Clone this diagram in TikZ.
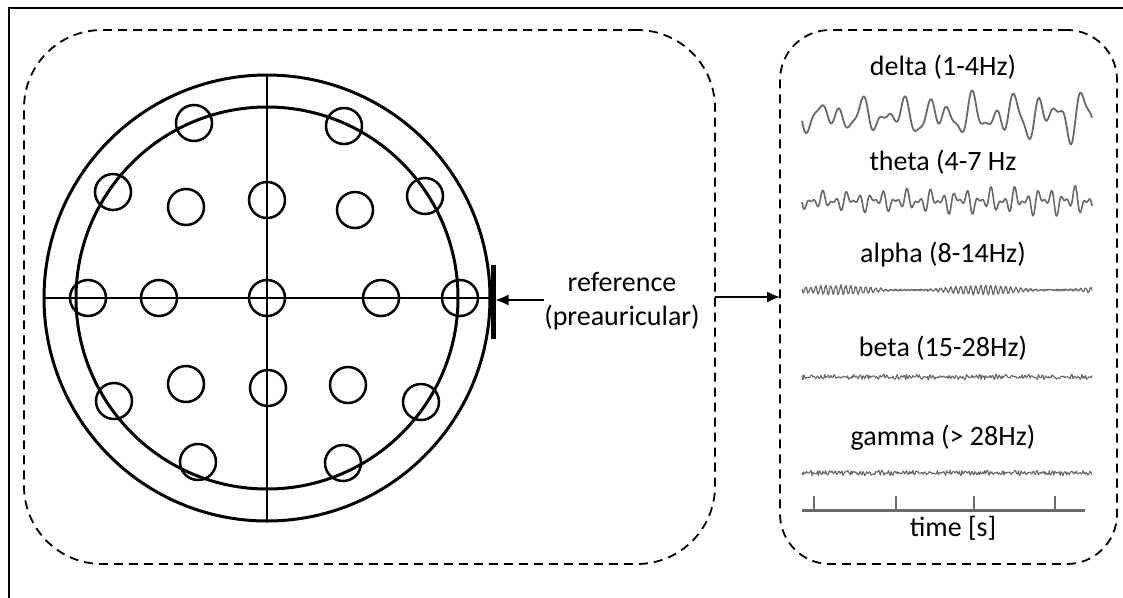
\documentclass[tikz,border=0pt]{standalone}
\usepackage{fontspec}
\setmainfont{Carlito}
\usetikzlibrary{arrows.meta}
\definecolor{wave}{RGB}{105,105,105}
\begin{document}
\begin{tikzpicture}[x=1pt,y=-1pt,
  elec/.style={circle,draw,line width=2.5pt,minimum size=36pt,inner sep=0pt},
  headring/.style={circle,draw,line width=3pt,inner sep=0pt,outer sep=0pt},
  dbox/.style={draw,line width=1.8pt,dash pattern=on 9pt off 6pt,outer sep=0pt,inner sep=0pt},
  lbl/.style={font=\fontsize{28}{34}\selectfont,inner sep=0pt,align=center},
  wv/.style={wave,line join=round},
  conn/.style={line width=1.3pt,-{Latex[length=13pt,width=11pt]}},
  tick/.style={wave,line width=2pt}]
\useasboundingbox (0,0) rectangle (1123,597);
% outer frame
\draw[line width=2.5pt] (1130,8) -- (9,8) -- (9,610);
% dashed boxes
\node[dbox,rounded corners=78pt,minimum width=691pt,minimum height=534pt] (leftbox) at (369.5,297) {};
\node[dbox,rounded corners=50pt,minimum width=337pt,minimum height=534pt] (rightbox) at (948.5,297) {};
% head
\node[headring,minimum size=446pt] (head) at (267,298) {};
\node[headring,minimum size=382pt] (inner) at (267,298) {};
\node[fill,minimum width=5pt,minimum height=74pt,inner sep=0pt,outer sep=0pt] (refbar) at (493,302) {};
\draw[line width=1.6pt] (head.west) -- (head.west -| refbar.west);
\draw[line width=1.6pt] (head.north) -- (head.south);
% electrodes
\node[elec] (e1) at (194,123) {};
\node[elec] (e2) at (344,126) {};
\node[elec] (e3) at (113,192) {};
\node[elec] (e4) at (186,207) {};
\node[elec] (e5) at (267,200) {};
\node[elec] (e6) at (355,210) {};
\node[elec] (e7) at (425,196) {};
\node[elec] (e8) at (88,298) {};
\node[elec] (e9) at (159,298) {};
\node[elec] (e10) at (267,298) {};
\node[elec] (e11) at (381,298) {};
\node[elec] (e12) at (460,298) {};
\node[elec] (e13) at (114,401) {};
\node[elec] (e14) at (186,384) {};
\node[elec] (e15) at (268,388) {};
\node[elec] (e16) at (348,385) {};
\node[elec] (e17) at (421,402) {};
\node[elec] (e18) at (198,462) {};
\node[elec] (e19) at (343,463) {};
% reference label and arrows
\node[lbl] (reftext) at (622,301) {reference\\(preauricular)};
\draw[conn] (reftext.west |- 0,300) -- (refbar.east |- 0,300);
\draw[conn] (leftbox.east) -- (rightbox.west);
% band labels
\node[lbl] (tdelta) at (943,67) {delta (1-4Hz)};
\node[lbl] (ttheta) at (943,162) {theta (4-7 Hz};
\node[lbl] (talpha) at (943,255) {alpha (8-14Hz)};
\node[lbl] (tbeta) at (943,348) {beta (15-28Hz)};
\node[lbl] (tgamma) at (943,438) {gamma (> 28Hz)};
\node[lbl] (ttime) at (953,528) {time [s]};
% waveforms
\pgfmathsetseed{4711}
\draw[wv,line width=1.8pt] plot[smooth,domain=0:290,samples=220]
  ({802+\x},{116+(0.8+0.6*\x/290)*(10*sin(\x*16.4)+8*sin(\x*9.7+40)+5*sin(\x*27+10))});
\draw[wv,line width=1.6pt] plot[smooth,domain=0:290,samples=300]
  ({802+\x},{201+(0.8+0.5*\x/290)*(6*sin(\x*30)+4*sin(\x*47+20)+3*sin(\x*13))});
\draw[wv,line width=1.2pt] plot[domain=0:290,samples=600]
  ({802+\x},{290+(0.5+0.5*sin(\x*2.5))*4.5*sin(360*mod(\x,5)/5)+0.8*rand});
\draw[wv,line width=1.1pt] plot[domain=0:290,samples=320]
  ({802+\x},{377+2*rand+1*sin(360*mod(\x,3.3)/3.3)});
\draw[wv,line width=1.1pt] plot[domain=0:290,samples=320]
  ({802+\x},{473+2*rand+1*sin(360*mod(\x,3.1)/3.1)});
% time axis
\coordinate (ax0) at (802,510);
\coordinate (ax1) at (1085,510);
\draw[wave,line width=3pt] (ax0) -- (ax1);
\foreach \t in {814,896,974,1055} \draw[tick] (\t,510) -- (\t,496);
\end{tikzpicture}
\end{document}
